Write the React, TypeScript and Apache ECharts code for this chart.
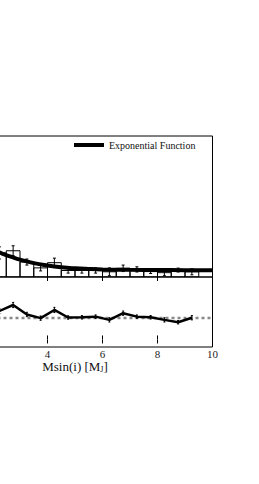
import React, { useEffect, useRef } from "react";
import * as echarts from "echarts";

// Histogram bins (Msin(i) in M_J)
const binStarts = [2.0, 2.5, 3.0, 3.5, 4.0, 4.5, 5.0, 5.5, 6.0, 6.5, 7.0, 7.5, 8.0, 8.5, 9.0];
const binEnds = [2.5, 3.0, 3.5, 4.0, 4.5, 5.0, 5.5, 6.0, 6.5, 7.0, 7.5, 8.0, 8.5, 9.0, 9.5];
const binCenters = [2.25, 2.75, 3.25, 3.75, 4.25, 4.75, 5.25, 5.75, 6.25, 6.75, 7.25, 7.75, 8.25, 8.75, 9.25];
const histValues = [0.111, 0.121, 0.069, 0.042, 0.066, 0.030, 0.030, 0.030, 0.024, 0.040, 0.035, 0.025, 0.020, 0.032, 0.024];
const histErrors = [0.028, 0.023, 0.014, 0.014, 0.021, 0.012, 0.012, 0.012, 0.018, 0.015, 0.012, 0.009, 0.014, 0.009, 0.014];

// Exponential fit curve
const fitX = [1.8, 2.25, 2.75, 3.0, 3.5, 4.0, 4.5, 5.0, 5.5, 6.0, 7.0, 8.0, 9.0, 10.0];
const fitY = [0.135, 0.113, 0.090, 0.080, 0.064, 0.053, 0.045, 0.040, 0.037, 0.035, 0.033, 0.032, 0.0315, 0.031];

// Lower panel (data / fit)
const ratioY = [1.32, 1.60, 1.16, 0.99, 1.37, 1.02, 1.03, 1.06, 0.91, 1.22, 1.06, 1.03, 0.91, 0.80, 1.01];
const ratioErr = [0.12, 0.12, 0.1, 0.1, 0.12, 0.08, 0.08, 0.08, 0.1, 0.1, 0.08, 0.08, 0.1, 0.08, 0.1];
const referenceLevel = [[0, 1], [10, 1]];

const xTicks = [2, 4, 6, 8, 10];
const xTickLabels = [4, 6, 8, 10];
const upperYTicks = [0, 0.1, 0.2, 0.3, 0.4, 0.5, 0.6];
const lowerYTicks = [0, 0.5, 1, 1.5, 2, 2.5];

const SERIF = "'Liberation Serif', 'DejaVu Serif', serif";

export default function App() {
  const ref = useRef<HTMLDivElement>(null);

  useEffect(() => {
    if (!ref.current) return;
    const chart = echarts.init(ref.current, undefined, { renderer: "svg" });

    const bins = binStarts.map((s, i) => [s, binEnds[i], histValues[i]]);
    const errs = binCenters.map((c, i) => [c, histValues[i], histErrors[i]]);
    const fit = fitX.map((x, i) => [x, fitY[i]]);
    const ratio = binCenters.map((c, i) => [c, ratioY[i]]);
    const rErrs = binCenters.map((c, i) => [c, ratioY[i], ratioErr[i]]);

    const errRender = (capHalf: number, lw: number) => (params: any, api: any) => {
      const x = api.value(0);
      const y = api.value(1);
      const e = api.value(2);
      const top = api.coord([x, y + e]);
      const bot = api.coord([x, y - e]);
      const children: any[] = [
        { type: "line", shape: { x1: top[0], y1: top[1], x2: bot[0], y2: bot[1] }, style: { stroke: "#000", lineWidth: lw } },
      ];
      if (capHalf > 0) {
        children.push(
          { type: "line", shape: { x1: top[0] - capHalf, y1: top[1], x2: top[0] + capHalf, y2: top[1] }, style: { stroke: "#000", lineWidth: lw } },
          { type: "line", shape: { x1: bot[0] - capHalf, y1: bot[1], x2: bot[0] + capHalf, y2: bot[1] }, style: { stroke: "#000", lineWidth: lw } }
        );
      }
      return { type: "group", children };
    };

    const baseX = (gridIndex: number, position: "top" | "bottom", showLabels: boolean) => ({
      type: "value",
      gridIndex,
      position,
      min: 0,
      max: 10,
      interval: 2,
      axisLine: { show: false },
      axisTick: { show: true, inside: true, length: 4, customValues: xTicks, lineStyle: { color: "#000", width: 1 } },
      splitLine: { show: false },
      axisLabel: {
        show: showLabels,
        fontFamily: SERIF,
        fontSize: 11,
        color: "#222",
        margin: 1,
        customValues: xTickLabels,
      },
    });

    const option: any = {
      animation: false,
      backgroundColor: "#fff",
      legend: {
        left: 74,
        top: 140,
        itemWidth: 30,
        itemHeight: 4,
        itemGap: 5,
        padding: 0,
        textStyle: { fontFamily: SERIF, fontSize: 10, color: "#111" },
        data: [{ name: "Exponential Function", icon: "rect", itemStyle: { color: "#000" } }],
      },
      grid: [
        { left: -62.5, width: 275, top: 136, height: 141, show: true, borderColor: "#000", borderWidth: 1, backgroundColor: "transparent", outerBoundsMode: "none", containLabel: false },
        { left: -62.5, width: 275, top: 277, height: 70, show: true, borderColor: "#000", borderWidth: 1, backgroundColor: "transparent", outerBoundsMode: "none", containLabel: false },
      ],
      xAxis: [
        baseX(0, "bottom", false),
        baseX(0, "top", false),
        {
          ...baseX(1, "bottom", true),
          name: "Msin(i) [M{sub|J}]",
          nameLocation: "middle",
          nameGap: 9,
          nameTextStyle: {
            fontFamily: SERIF,
            fontSize: 13,
            color: "#111",
            verticalAlign: "top",
            rich: { sub: { fontFamily: SERIF, fontSize: 8, color: "#111", verticalAlign: "bottom", padding: [6, 0, 0, 0] } },
          },
        },
        baseX(1, "top", false),
      ],
      yAxis: [
        { type: "value", gridIndex: 0, position: "left", min: 0, max: 0.65, axisLine: { show: false }, axisTick: { show: false }, axisLabel: { show: false }, splitLine: { show: false } },
        {
          type: "value", gridIndex: 0, position: "right", min: 0, max: 0.65,
          axisLine: { show: false },
          axisTick: { show: true, inside: false, length: 3, customValues: upperYTicks, lineStyle: { color: "#000" } },
          axisLabel: { show: false }, splitLine: { show: false },
        },
        { type: "value", gridIndex: 1, position: "left", min: -0.35, max: 2.9, axisLine: { show: false }, axisTick: { show: false }, axisLabel: { show: false }, splitLine: { show: false } },
        {
          type: "value", gridIndex: 1, position: "right", min: -0.35, max: 2.9,
          axisLine: { show: false },
          axisTick: { show: true, inside: false, length: 3, customValues: lowerYTicks, lineStyle: { color: "#000" } },
          axisLabel: { show: false }, splitLine: { show: false },
        },
      ],
      series: [
        {
          type: "custom",
          name: "hist",
          xAxisIndex: 0,
          yAxisIndex: 0,
          data: bins,
          encode: { x: [0, 1], y: 2 },
          clip: true,
          renderItem: (params: any, api: any) => {
            const p0 = api.coord([api.value(0), api.value(2)]);
            const p1 = api.coord([api.value(1), 0]);
            return {
              type: "rect",
              shape: { x: p0[0], y: p0[1], width: p1[0] - p0[0], height: p1[1] - p0[1] },
              style: { fill: "none", stroke: "#000", lineWidth: 1 },
            };
          },
          z: 2,
        },
        {
          type: "custom",
          name: "histErr",
          xAxisIndex: 0,
          yAxisIndex: 0,
          data: errs,
          encode: { x: 0, y: 1 },
          clip: true,
          renderItem: errRender(1.5, 1),
          z: 3,
        },
        {
          type: "line",
          name: "Exponential Function",
          xAxisIndex: 0,
          yAxisIndex: 0,
          data: fit,
          showSymbol: false,
          symbol: "none",
          smooth: true,
          clip: true,
          lineStyle: { color: "#000", width: 4 },
          itemStyle: { color: "#000" },
          z: 4,
        },
        {
          type: "line",
          name: "ref",
          xAxisIndex: 2,
          yAxisIndex: 2,
          data: referenceLevel,
          symbol: "none",
          lineStyle: { color: "#888", width: 2.5, type: [3, 3] },
          z: 2,
        },
        {
          type: "line",
          name: "ratio",
          xAxisIndex: 2,
          yAxisIndex: 2,
          data: ratio,
          symbol: "none",
          lineStyle: { color: "#000", width: 2.5 },
          z: 4,
        },
        {
          type: "custom",
          name: "ratioErr",
          xAxisIndex: 2,
          yAxisIndex: 2,
          data: rErrs,
          encode: { x: 0, y: 1 },
          renderItem: errRender(1, 1),
          z: 5,
        },
      ],
    };

    chart.setOption(option);
    return () => chart.dispose();
  }, []);

  return (
    <div
      ref={ref}
      style={{ position: "fixed", left: 0, top: 0, width: 259, height: 484, background: "#fff" }}
    />
  );
}
